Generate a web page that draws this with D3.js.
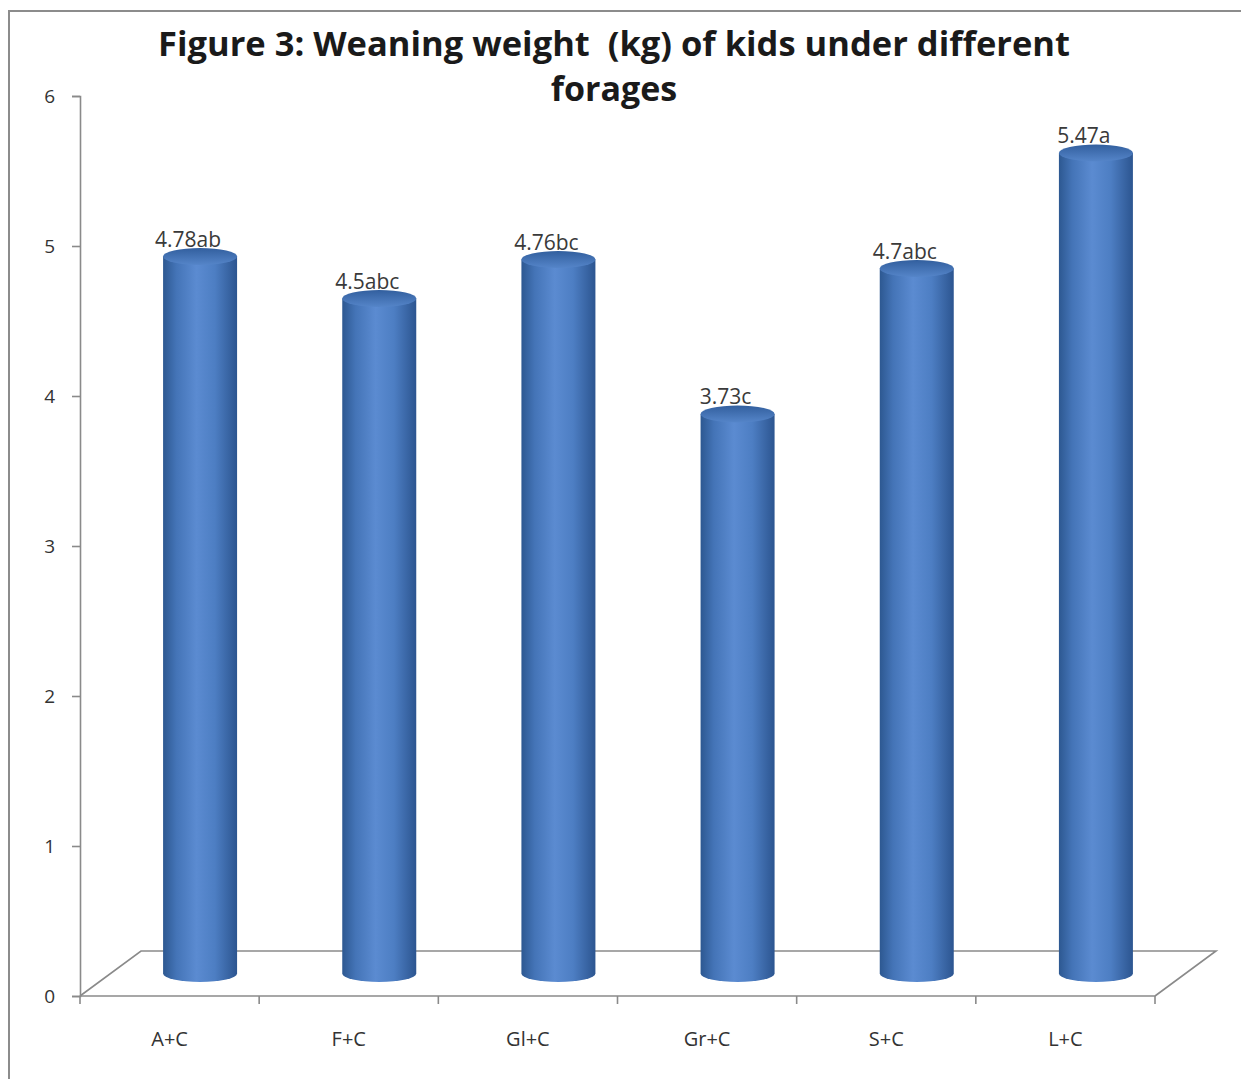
<!DOCTYPE html>
<html>
<head>
<meta charset="utf-8">
<script src="https://cdn.jsdelivr.net/npm/d3@7"></script>
<style>
  body { margin: 0; background: #fff; }
  svg text { font-family: "Open Sans", "DejaVu Sans", sans-serif; }
  .axis path, .axis line { stroke: #8a8a8a; stroke-width: 1.6; }
  .axis text { fill: #333; }
</style>
</head>
<body>
<svg id="chart" width="1241" height="1079"></svg>
<script>
// data
var categories = ["A+C", "F+C", "Gl+C", "Gr+C", "S+C", "L+C"];
var values = [4.78, 4.5, 4.76, 3.73, 4.7, 5.47];
var labels = ["4.78ab", "4.5abc", "4.76bc", "3.73c", "4.7abc", "5.47a"];
var yTicks = [0, 1, 2, 3, 4, 5, 6];

var svg = d3.select("#chart");

// depth offset of the 3d floor
var depthX = 61, depthY = -45;

var x = d3.scaleBand().domain(categories).range([80, 1155]);
var y = d3.scaleLinear().domain([0, 6]).range([996, 96]);

// frame
svg.append("rect")
   .attr("x", 9).attr("y", 11)
   .attr("width", 1260).attr("height", 1100)
   .attr("fill", "#fff")
   .attr("stroke", "#8c8c8c")
   .attr("stroke-width", 2);

// gradients
var defs = svg.append("defs");
var side = defs.append("linearGradient").attr("id", "side")
   .attr("x1", "0").attr("x2", "1").attr("y1", "0").attr("y2", "0");
side.append("stop").attr("offset", "0%").attr("stop-color", "#2d5891");
side.append("stop").attr("offset", "18%").attr("stop-color", "#4474b7");
side.append("stop").attr("offset", "45%").attr("stop-color", "#5b8bd1");
side.append("stop").attr("offset", "70%").attr("stop-color", "#4d7ec3");
side.append("stop").attr("offset", "100%").attr("stop-color", "#2c5590");

var cap = defs.append("linearGradient").attr("id", "topcap")
   .attr("x1", "0").attr("x2", "0").attr("y1", "0").attr("y2", "1");
cap.append("stop").attr("offset", "0%").attr("stop-color", "#325f9e");
cap.append("stop").attr("offset", "100%").attr("stop-color", "#5585c9");

// title
var title = svg.append("text")
   .attr("text-anchor", "middle")
   .attr("font-weight", "bold")
   .attr("font-size", 34)
   .attr("fill", "#1a1a1a")
   .style("white-space", "pre");
title.append("tspan").attr("x", 614).attr("y", 56)
   .attr("textLength", 912).attr("lengthAdjust", "spacingAndGlyphs")
   .text("Figure 3: Weaning weight  (kg) of kids under different");
title.append("tspan").attr("x", 614).attr("y", 101)
   .text("forages");

// floor
var floor = svg.append("g").attr("fill", "none")
   .attr("stroke", "#8a8a8a").attr("stroke-width", 1.6);
floor.append("path")
   .attr("d", "M" + x.range()[0] + "," + y(0) +
              "L" + (x.range()[0] + depthX) + "," + (y(0) + depthY) +
              "L" + (x.range()[1] + depthX) + "," + (y(0) + depthY) +
              "L" + x.range()[1] + "," + y(0));

// y axis
svg.append("g").attr("class", "axis")
   .attr("transform", "translate(" + x.range()[0] + ",0)")
   .call(d3.axisLeft(y).tickValues(yTicks).tickFormat(d3.format("d"))
          .tickSize(8).tickPadding(17))
   .call(function(g) { g.selectAll("text").attr("font-size", 19); });

// x axis with ticks at the category boundaries
var xAxis = svg.append("g").attr("class", "axis")
   .attr("transform", "translate(0," + y(0) + ")");
xAxis.append("line")
   .attr("x1", x.range()[0]).attr("x2", x.range()[1]);
var bounds = categories.map(function(c) { return x(c); }).concat([x.range()[1]]);
xAxis.selectAll(".tk").data(bounds).enter().append("line")
   .attr("class", "tk")
   .attr("x1", function(d) { return d; }).attr("x2", function(d) { return d; })
   .attr("y1", 0).attr("y2", 8);
xAxis.selectAll(".lab").data(categories).enter().append("text")
   .attr("class", "lab")
   .attr("x", function(d) { return x(d) + x.bandwidth() / 2; })
   .attr("y", 50)
   .attr("text-anchor", "middle")
   .attr("font-size", 20)
   .text(function(d) { return d; });

// cylinders, sitting at mid depth
var r = 37, ry = 8.5;
var bars = svg.append("g").selectAll("g").data(values).enter().append("g");
function cx(i) { return x(categories[i]) + x.bandwidth() / 2 + depthX / 2; }
function cy(v) { return y(v) + depthY / 2; }

bars.append("path")
   .attr("fill", "url(#side)")
   .attr("d", function(d, i) {
     var c = cx(i), t = cy(d), b = cy(0);
     return "M" + (c - r) + "," + t + "L" + (c - r) + "," + b +
            "A" + r + "," + ry + " 0 0 0 " + (c + r) + "," + b +
            "L" + (c + r) + "," + t + "Z";
   });
bars.append("ellipse")
   .attr("cx", function(d, i) { return cx(i); })
   .attr("cy", function(d) { return cy(d); })
   .attr("rx", r).attr("ry", ry)
   .attr("fill", "url(#topcap)");

bars.append("text")
   .attr("x", function(d, i) { return cx(i) - 12; })
   .attr("y", function(d) { return cy(d) - 10; })
   .attr("text-anchor", "middle")
   .attr("font-size", 21)
   .attr("fill", "#3a3a3a")
   .text(function(d, i) { return labels[i]; });
</script>
</body>
</html>
